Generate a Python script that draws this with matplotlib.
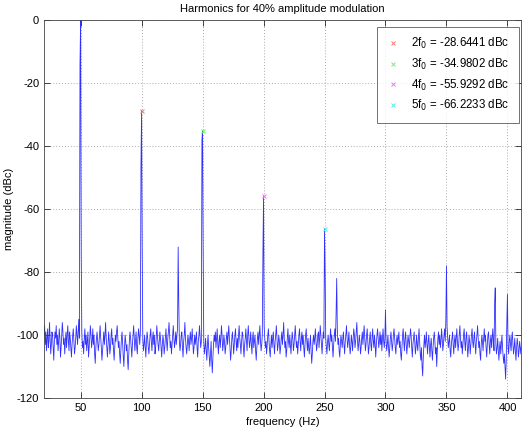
import numpy as np
import matplotlib
matplotlib.use("Agg")
import matplotlib.pyplot as plt

plt.rcParams['font.family'] = ['Liberation Sans', 'DejaVu Sans']
plt.rcParams['axes.unicode_minus'] = False

# frequency axis (Hz), 0.5 Hz bins starting at 20 Hz
freq_start = 20.0
freq_step = 0.5
noise_db = [
    -100, -97, -103, -99, -105, -101, -98, -104, -102, -96, -101, -106, -103, -99, -100, -104, -108, -102, -99, -101,
    -97, -103, -100, -105, -102, -98, -101, -107, -104, -100, -96, -99, -103, -101, -106, -102, -99, -104, -100, -97,
    -102, -105, -99, -101, -104, -107, -103, -100, -98, -102, -106, -104, -101, -97, -100, -103, -99, -95, -101, -98,
    -100, -96, -99, -104, -102, -106, -101, -98, -103, -100, -105, -102, -99, -107, -104, -101, -97, -100, -104, -102,
    -98, -103, -100, -106, -109, -104, -101, -99, -102, -105, -103, -100, -97, -101, -104, -108, -105, -102, -99, -103,
    -100, -96, -101, -104, -107, -103, -99, -102, -106, -104, -100, -98, -103, -101, -105, -108, -104, -100, -102, -99,
    -97, -101, -104, -102, -106, -109, -105, -101, -99, -103, -107, -110, -104, -100, -102, -105, -103, -108, -111, -106,
    -102, -99, -101, -104, -107, -103, -100, -97, -101, -105, -102, -99, -104, -106, -101, -98, -100, -103, -99, -96,
    -100, -97, -101, -105, -103, -100, -104, -107, -102, -99, -101, -104, -106, -103, -100, -98, -102, -105, -101, -99,
    -103, -100, -106, -104, -101, -97, -100, -103, -105, -102, -99, -101, -104, -107, -103, -100, -102, -106, -104, -101,
    -98, -102, -105, -101, -99, -96, -100, -104, -102, -106, -103, -100, -97, -101, -104, -102, -99, -103, -100, -98,
    -100, -97, -102, -105, -103, -100, -99, -104, -107, -102, -100, -96, -101, -104, -106, -103, -100, -102, -105, -101,
    -99, -103, -101, -98, -102, -106, -104, -100, -103, -101, -99, -104, -107, -102, -100, -97, -101, -104, -102, -99,
    -100, -96, -102, -106, -104, -101, -105, -108, -103, -100, -104, -107, -110, -106, -102, -108, -112, -107, -103, -100,
    -102, -99, -104, -101, -98, -103, -106, -102, -100, -104, -101, -97, -100, -105, -103, -100, -102, -106, -104, -101,
    -99, -103, -100, -97, -101, -104, -108, -105, -101, -99, -102, -106, -103, -100, -98, -102, -105, -101, -104, -100,
    -97, -101, -103, -106, -102, -99, -100, -104, -107, -103, -101, -98, -102, -105, -100, -97, -101, -104, -102, -99,
    -103, -106, -101, -99, -104, -102, -100, -105, -108, -104, -101, -99, -103, -100, -97, -102, -105, -103, -100, -98,
    -100, -97, -101, -104, -102, -106, -103, -100, -98, -102, -105, -107, -103, -100, -104, -101, -99, -103, -106, -102,
    -100, -97, -101, -105, -103, -100, -102, -106, -104, -101, -99, -103, -100, -96, -101, -104, -102, -107, -105, -101,
    -98, -102, -104, -100, -103, -106, -102, -99, -101, -105, -103, -100, -97, -101, -104, -102, -106, -103, -100, -98,
    -102, -105, -101, -99, -103, -100, -104, -107, -103, -100, -98, -102, -105, -101, -104, -106, -103, -100, -105, -109,
    -106, -102, -100, -103, -101, -98, -102, -105, -103, -100, -99, -104, -101, -97, -100, -103, -106, -102, -99, -101,
    -100, -96, -101, -104, -106, -102, -100, -103, -105, -101, -98, -102, -100, -104, -107, -103, -100, -98, -102, -100,
    -100, -98, -103, -101, -105, -107, -103, -100, -102, -104, -101, -99, -103, -106, -102, -100, -97, -101, -104, -102,
    -99, -103, -106, -104, -100, -102, -105, -101, -98, -100, -104, -102, -99, -96, -101, -105, -103, -100, -102, -106,
    -104, -101, -99, -103, -100, -97, -101, -105, -103, -100, -98, -102, -106, -104, -101, -99, -103, -105, -101, -98,
    -102, -104, -100, -103, -107, -103, -100, -98, -101, -104, -102, -99, -103, -100, -105, -101, -98, -102, -104, -101,
    -100, -102, -105, -103, -100, -104, -107, -104, -101, -99, -102, -105, -103, -100, -98, -101, -104, -106, -102, -100,
    -103, -101, -99, -104, -102, -106, -108, -104, -100, -98, -102, -105, -101, -99, -103, -106, -103, -100, -102, -104,
    -101, -98, -100, -104, -107, -103, -101, -99, -102, -106, -104, -100, -103, -105, -101, -98, -102, -106, -108, -104,
    -110, -113, -107, -103, -100, -104, -102, -99, -103, -106, -102, -100, -104, -107, -103, -101, -105, -108, -104, -101,
    -99, -102, -106, -104, -110, -105, -101, -99, -103, -100, -104, -102, -98, -101, -105, -103, -100, -98, -102, -99,
    -100, -97, -101, -104, -102, -100, -105, -107, -103, -101, -99, -103, -106, -102, -100, -104, -101, -98, -102, -105,
    -103, -100, -97, -101, -104, -102, -106, -103, -100, -98, -102, -105, -101, -99, -103, -107, -104, -100, -102, -106,
    -103, -100, -98, -102, -104, -101, -99, -103, -106, -102, -100, -97, -101, -104, -102, -106, -108, -103, -100, -102,
    -105, -101, -98, -102, -100, -104, -107, -103, -100, -99, -103, -106, -102, -100, -104, -101, -98, -102, -105, -101,
    -100, -103, -106, -104, -101, -105, -108, -104, -102, -106, -103, -100, -104, -107, -109, -106, -110, -114, -108, -103,
    -100, -104, -106, -102, -100, -103, -105, -101, -99, -103, -106, -104, -101, -105, -108, -104, -101, -103, -107, -105,
    -102, -104, -106, -103,
]

# spectral lines and their leakage bins (Hz, dBc)
line_freqs = [49.5, 50.0, 50.5, 99.5, 100.0, 100.5, 130.0, 130.5, 149.5, 150.0, 150.5,
              199.5, 200.0, 250.0, 250.5, 259.5, 260.0, 300.0, 349.5, 350.0, 389.5, 390.0, 399.5, 400.0]
line_levels = [-14.0, 0.0, -75.0, -46.0, -28.6441, -72.0, -72.0, -90.0, -38.0, -34.9802, -74.0,
               -74.0, -55.9292, -66.2233, -80.0, -93.0, -82.0, -92.0, -95.0, -78.0, -90.0, -85.0, -96.0, -87.0]

# harmonic markers
harm_labels = ['2f$_0$ = -28.6441 dBc', '3f$_0$ = -34.9802 dBc',
               '4f$_0$ = -55.9292 dBc', '5f$_0$ = -66.2233 dBc']
harm_freqs = [100, 150, 200, 250]
harm_levels = [-28.6441, -34.9802, -55.9292, -66.2233]
harm_colors = ['#ff7777', '#77ee77', '#ee77ee', '#66e0e0']

freqs = freq_start + freq_step * np.arange(len(noise_db))
spec = np.array(noise_db, dtype=float)
for f, lv in zip(line_freqs, line_levels):
    spec[np.isclose(freqs, f)] = lv

fig = plt.figure(figsize=(5.24, 4.29), dpi=100)
ax = fig.add_axes([0.084, 0.0723, 0.910, 0.880])
ax.plot(freqs, spec, color='#3030ff', lw=0.6)
for f, lv, c, lab in zip(harm_freqs, harm_levels, harm_colors, harm_labels):
    ax.plot([f], [lv], 'x', color=c, ms=3.5, mew=0.7, label=lab, linestyle='none')

ax.set_xlim(20, 411)
ax.set_ylim(-120, 0)
ax.set_xticks([50, 100, 150, 200, 250, 300, 350, 400])
ax.set_yticks([-120, -100, -80, -60, -40, -20, 0])
ax.grid(True, linestyle=(0, (1, 2)), color='#aaaaaa', lw=0.7)
ax.tick_params(direction='in', top=True, right=True, labelsize=8, length=4, width=0.5)
for s in ax.spines.values():
    s.set_linewidth(0.6)
    s.set_color('#444444')
ax.set_xlabel('frequency (Hz)', fontsize=8, labelpad=3)
ax.set_ylabel('magnitude (dBc)', fontsize=8, labelpad=2)
ax.set_title('Harmonics for 40% amplitude modulation', fontsize=8, pad=6)
leg = ax.legend(loc='upper right', bbox_to_anchor=(0.996, 0.984), fontsize=8.3,
                borderaxespad=0, frameon=True, fancybox=False, edgecolor='#333333',
                handlelength=1.2, handletextpad=1.0, borderpad=0.8, labelspacing=0.5)
leg.get_frame().set_linewidth(0.6)
fig.savefig('out.png', dpi=100)
